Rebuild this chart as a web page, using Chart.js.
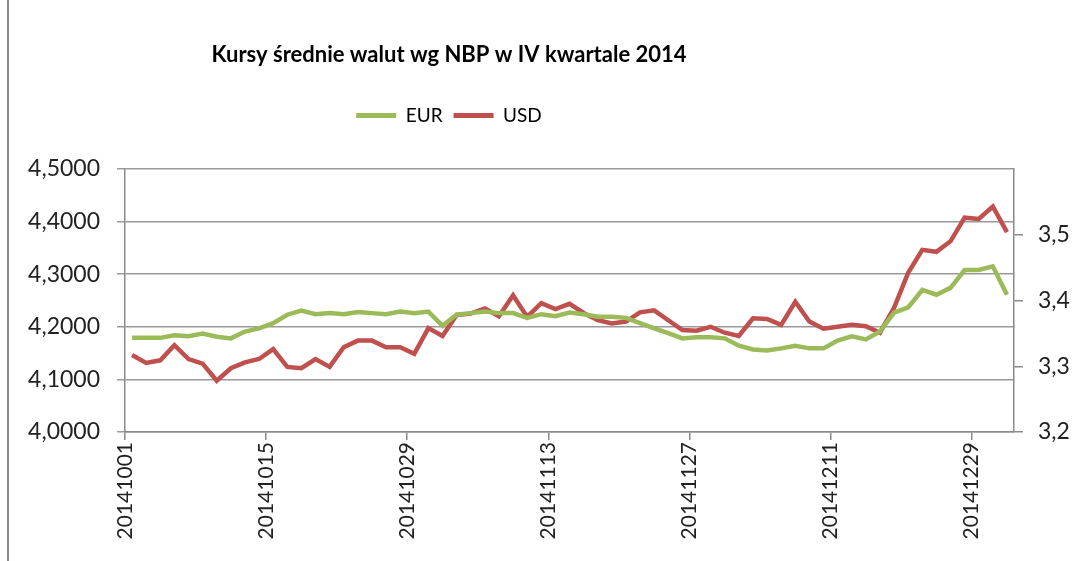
<!doctype html>
<html>

<head>
	<meta charset="utf-8">
	<title>Kursy średnie walut wg NBP w IV kwartale 2014</title>
	<script src="https://cdn.jsdelivr.net/npm/chart.js@4/dist/chart.umd.min.js"></script>
	<style>
	html, body {
		margin: 0;
		padding: 0;
		background: #fff;
	}
	#container {
		position: relative;
		width: 1078px;
		height: 561px;
	}
	</style>
</head>

<body>
	<div id="container"><canvas id="canvas"></canvas></div>
	<script>
		// NBP fixing days, Q4 2014
		const dates = [
			'20141001', '20141002', '20141003', '20141006', '20141007', '20141008', '20141009', '20141010',
			'20141013', '20141014', '20141015', '20141016', '20141017', '20141020', '20141021', '20141022',
			'20141023', '20141024', '20141027', '20141028', '20141029', '20141030', '20141031',
			'20141103', '20141104', '20141105', '20141106', '20141107', '20141110', '20141112', '20141113',
			'20141114', '20141117', '20141118', '20141119', '20141120', '20141121', '20141124', '20141125',
			'20141126', '20141127', '20141128',
			'20141201', '20141202', '20141203', '20141204', '20141205', '20141208', '20141209', '20141210',
			'20141211', '20141212', '20141215', '20141216', '20141217', '20141218', '20141219', '20141222',
			'20141223', '20141224', '20141229', '20141230', '20141231'
		];

		// left axis
		const eur = [
			4.179, 4.179, 4.179, 4.184, 4.182, 4.187, 4.181, 4.178, 4.191, 4.197,
			4.207, 4.223, 4.231, 4.224, 4.226, 4.224, 4.228, 4.226, 4.224, 4.229,
			4.226, 4.229, 4.202, 4.223, 4.226, 4.229, 4.226, 4.226, 4.217, 4.224,
			4.220, 4.227, 4.224, 4.219, 4.219, 4.217, 4.207, 4.197, 4.188, 4.178,
			4.180, 4.180, 4.178, 4.164, 4.157, 4.155, 4.159, 4.164, 4.159, 4.159,
			4.174, 4.182, 4.176, 4.191, 4.227, 4.237, 4.270, 4.261, 4.274, 4.308,
			4.308, 4.315, 4.261
		];

		// right axis
		const usd = [
			3.317, 3.305, 3.309, 3.332, 3.311, 3.304, 3.278, 3.297, 3.306, 3.311,
			3.326, 3.299, 3.297, 3.311, 3.299, 3.329, 3.339, 3.339, 3.329, 3.329,
			3.319, 3.358, 3.346, 3.378, 3.380, 3.388, 3.376, 3.408, 3.375, 3.396,
			3.387, 3.395, 3.381, 3.370, 3.365, 3.368, 3.382, 3.385, 3.370, 3.355,
			3.354, 3.360, 3.351, 3.346, 3.373, 3.372, 3.363, 3.398, 3.368, 3.357,
			3.360, 3.363, 3.361, 3.351, 3.389, 3.442, 3.477, 3.474, 3.490, 3.526,
			3.524, 3.543, 3.504
		];

		const labelEvery = 10;

		// points sit in the middle of each category slot
		const toPoints = vals => vals.map((v, i) => ({x: i + 0.5, y: v}));
		const plNum = (v, d) => v.toFixed(d).replace('.', ',');

		const green = '#9bbb59';
		const red = '#c0504d';
		const gridGrey = '#9a9a9a';
		const axisGrey = '#8a8a8a';

		// title and legend are centred on x=449 in the original, not on the canvas
		const shiftHeader = {
			id: 'shiftHeader',
			afterLayout(chart) {
				[chart.titleBlock, chart.legend].forEach(box => {
					if (!box) return;
					box.left = 0;
					box.right = 898;
					box.width = 898;
				});
			},
			beforeDraw(chart) {
				const c = chart.ctx;
				c.save();
				c.fillStyle = axisGrey;
				c.fillRect(7, 0, 2, chart.height);
				c.restore();
			}
		};

		const ctx = document.getElementById('canvas').getContext('2d');
		window.myChart = new Chart(ctx, {
			type: 'line',
			data: {
				datasets: [{
					label: 'EUR',
					data: toPoints(eur),
					yAxisID: 'y',
					borderColor: green,
					backgroundColor: green,
					borderWidth: 4.5,
					pointRadius: 0,
					tension: 0
				}, {
					label: 'USD',
					data: toPoints(usd),
					yAxisID: 'y2',
					borderColor: red,
					backgroundColor: red,
					borderWidth: 4.5,
					pointRadius: 0,
					tension: 0
				}]
			},
			options: {
				responsive: true,
				maintainAspectRatio: false,
				animation: false,
				layout: {padding: 0},
				plugins: {
					title: {
						display: true,
						text: 'Kursy średnie walut wg NBP w IV kwartale 2014',
						color: '#000',
						font: {family: 'Lato', weight: 'bold', size: 22},
						padding: {top: 40, bottom: 27}
					},
					// empty spacer between legend and plot
					subtitle: {
						display: true,
						text: '',
						weight: 500,
						font: {size: 10, lineHeight: 1},
						padding: {top: 2, bottom: 22}
					},
					legend: {
						position: 'top',
						labels: {
							color: '#000',
							font: {family: 'Lato', size: 19},
							boxWidth: 40,
							boxHeight: 5,
							padding: 11,
							generateLabels(chart) {
								return Chart.defaults.plugins.legend.labels.generateLabels(chart)
									.map(item => Object.assign(item, {lineWidth: 0}));
							}
						}
					},
					tooltip: {enabled: false}
				},
				scales: {
					x: {
						type: 'linear',
						min: 0,
						max: dates.length,
						afterBuildTicks: scale => {
							scale.ticks = scale.ticks.filter(t => t.value % labelEvery === 0 && t.value < dates.length);
						},
						afterFit: scale => {
							scale.height = 129;
						},
						ticks: {
							stepSize: labelEvery,
							autoSkip: false,
							minRotation: 90,
							maxRotation: 90,
							padding: 2,
							color: '#222',
							font: {family: 'Lato', size: 21},
							callback: v => dates[v]
						},
						grid: {
							drawOnChartArea: false,
							tickLength: 8,
							color: axisGrey,
							lineWidth: 1.5
						},
						border: {color: axisGrey, width: 1.5}
					},
					y: {
						position: 'left',
						min: 4.0,
						max: 4.5,
						afterFit: scale => {
							scale.width = 125;
							scale.paddingTop = 169;
						},
						ticks: {
							stepSize: 0.1,
							padding: 17,
							color: '#222',
							font: {family: 'Lato', size: 23},
							callback: v => plNum(v, 4)
						},
						grid: {
							color: gridGrey,
							lineWidth: 1.5,
							tickLength: 8
						},
						border: {color: axisGrey, width: 1.5}
					},
					y2: {
						position: 'right',
						min: 3.2,
						max: 3.6,
						afterBuildTicks: scale => {
							scale.ticks = scale.ticks.filter(t => t.value < 3.55);
						},
						afterFit: scale => {
							scale.width = 64;
						},
						ticks: {
							stepSize: 0.1,
							padding: 15,
							color: '#222',
							font: {family: 'Lato', size: 23},
							callback: v => plNum(v, 1)
						},
						grid: {
							drawOnChartArea: false,
							tickLength: 9,
							color: axisGrey,
							lineWidth: 1.5
						},
						border: {color: axisGrey, width: 1.5}
					}
				}
			},
			plugins: [shiftHeader]
		});
	</script>
</body>

</html>
